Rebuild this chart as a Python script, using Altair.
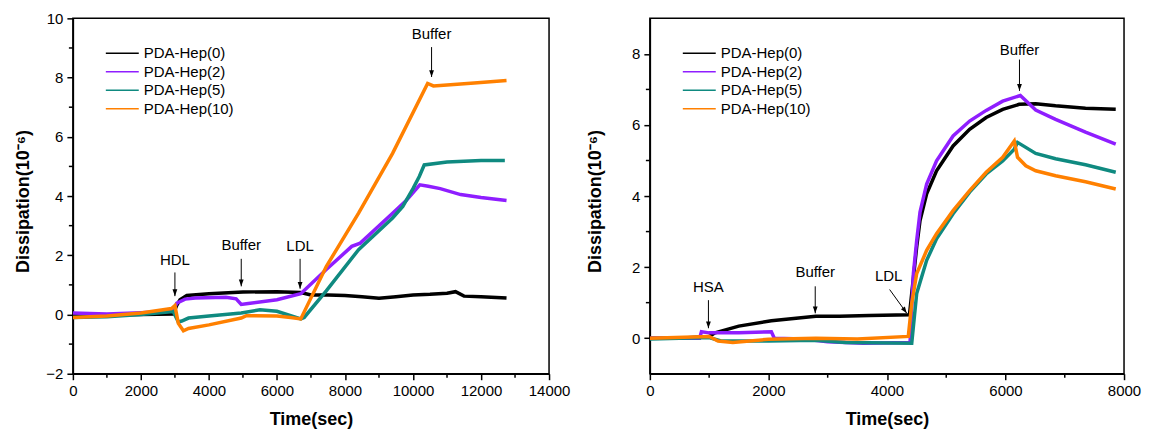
import altair as alt
import pandas as pd

FONT = "Liberation Sans"
SERIES = ["PDA-Hep(0)", "PDA-Hep(2)", "PDA-Hep(5)", "PDA-Hep(10)"]
COLORS = ["#000000", "#8F1EFF", "#0F8A80", "#FF8000"]

# ---------------- Left panel (HDL -> Buffer -> LDL -> Buffer) ----------------
L0_T = [0, 1000, 2000, 2950, 3050, 3150, 3350, 4000, 5000, 6000, 6700, 7000, 7500, 8000,
        8500, 9000, 9500, 10000, 10500, 11000, 11250, 11500, 12000, 12750]
L0_D = [0.0, -0.02, 0.0, 0.02, 0.3, 0.5, 0.64, 0.7, 0.76, 0.77, 0.74, 0.66, 0.66, 0.64,
        0.6, 0.55, 0.6, 0.66, 0.68, 0.72, 0.77, 0.62, 0.6, 0.56]
L2_T = [0, 1000, 2000, 2950, 3050, 3300, 3600, 4500, 4800, 4950, 5100, 6000, 6700, 7450,
        8200, 8450, 9400, 9800, 10200, 10450, 10800, 11400, 12000, 12750]
L2_D = [0.05, 0.02, 0.06, 0.12, 0.38, 0.52, 0.56, 0.58, 0.53, 0.34, 0.36, 0.5, 0.7, 1.52,
        2.3, 2.41, 3.42, 3.85, 4.38, 4.33, 4.25, 4.05, 3.95, 3.85]
L5_T = [0, 1000, 2000, 2950, 3100, 3200, 3400, 4000, 4950, 5500, 6000, 6700, 6800, 7450,
        8400, 9400, 9700, 10000, 10185, 10330, 11000, 12000, 12700]
L5_D = [-0.1, -0.08, 0.0, 0.1, -0.25, -0.22, -0.12, -0.05, 0.05, 0.16, 0.11, -0.15, -0.1, 0.8,
        2.19, 3.26, 3.65, 4.25, 4.66, 5.05, 5.15, 5.2, 5.2]
L10_T = [0, 1000, 2000, 2900, 3000, 3100, 3250, 3400, 4000, 4950, 5100, 6000, 6400, 6700,
         7450, 8400, 9400, 10430, 10600, 11000, 11800, 12750]
L10_D = [-0.1, -0.05, 0.05, 0.2, 0.3, -0.3, -0.55, -0.47, -0.35, -0.12, -0.04, -0.05, -0.1, -0.15,
         1.62, 3.42, 5.44, 7.8, 7.72, 7.75, 7.82, 7.9]

L_ANN_TEXT = ["HDL", "Buffer", "LDL", "Buffer"]
L_ANN_T = [3000, 4950, 6680, 10546]
L_ANN_D = [1.85, 2.33, 2.3, 9.46]
L_ARR_T = [3000, 4950, 6680, 10546]
L_ARR_TOP = [1.42, 1.88, 1.88, 9.03]
L_ARR_TIP = [0.62, 0.95, 0.87, 8.02]

L_XTICKS = [0, 2000, 4000, 6000, 8000, 10000, 12000, 14000]
L_XMINOR = [1000, 3000, 5000, 7000, 9000, 11000, 13000]
L_YTICKS = [-2, 0, 2, 4, 6, 8, 10]
L_YMINOR = [-1, 1, 3, 5, 7, 9]

# ---------------- Right panel (HSA -> Buffer -> LDL -> Buffer) ----------------
R0_T = [0, 500, 1000, 1100, 1500, 2050, 2800, 3200, 3700, 4380, 4418, 4502, 4558, 4670,
        4837, 5116, 5395, 5674, 5953, 6231, 6510, 6845, 7350, 7860]
R0_D = [0.0, 0.0, 0.05, 0.15, 0.34, 0.49, 0.62, 0.62, 0.64, 0.66, 1.26, 2.57, 3.31, 4.06,
        4.71, 5.41, 5.88, 6.21, 6.44, 6.58, 6.6, 6.54, 6.47, 6.44]
R2_T = [0, 840, 870, 1000, 1500, 2050, 2100, 2600, 3000, 3600, 4390, 4446, 4502, 4558,
        4670, 4837, 5116, 5395, 5674, 5953, 6250, 6510, 6845, 7350, 7860]
R2_D = [0.0, 0.0, 0.18, 0.15, 0.15, 0.18, 0.0, -0.02, -0.1, -0.14, -0.12, 1.82, 2.75, 3.55,
        4.34, 4.99, 5.69, 6.11, 6.41, 6.67, 6.83, 6.42, 6.16, 5.8, 5.46]
R5_T = [0, 1000, 1200, 2000, 2800, 3300, 4418, 4502, 4670, 4837, 5116, 5395, 5674, 5953,
        6148, 6203, 6510, 6845, 7350, 7860]
R5_D = [-0.02, 0.02, -0.08, -0.08, -0.06, -0.12, -0.14, 1.26, 2.19, 2.8, 3.5, 4.11, 4.62, 4.99,
        5.32, 5.51, 5.2, 5.05, 4.88, 4.67]
R10_T = [0, 1000, 1150, 1400, 2000, 2800, 3500, 4360, 4418, 4502, 4670, 4837, 5116, 5395,
         5674, 5953, 6148, 6203, 6343, 6510, 6845, 7350, 7860]
R10_D = [0.0, 0.05, -0.08, -0.12, -0.03, 0.0, -0.02, 0.05, 0.98, 1.82, 2.47, 2.94, 3.59, 4.15,
         4.67, 5.09, 5.55, 5.09, 4.85, 4.71, 4.57, 4.4, 4.2]

R_ANN_TEXT = ["HSA", "Buffer", "LDL", "Buffer"]
R_ANN_T = [988, 2790, 4028, 6236]
R_ANN_D = [1.43, 1.87, 1.75, 8.12]
R_ARR_T = [988, 2790, 6236]
R_ARR_TOP = [1.07, 1.46, 7.84]
R_ARR_TIP = [0.28, 0.70, 6.96]
R_DIAG_T = [4045]
R_DIAG_TOP = [1.37]
R_DIAG_T2 = [4335]
R_DIAG_TIP = [0.70]

R_XTICKS = [0, 2000, 4000, 6000, 8000]
R_XMINOR = [1000, 3000, 5000, 7000]
R_YTICKS = [0, 2, 4, 6, 8]
R_YMINOR = [1, 3, 5, 7]

W_L, W_R, H = 477, 475, 356
ARROW_HEAD = "M0,0L-0.6,-1.7L0.6,-1.7Z"


def series_df(ts, ds):
    rows = []
    for name, t, d in zip(SERIES, ts, ds):
        for a, b in zip(t, d):
            rows.append({"series": name, "t": a, "d": b})
    return pd.DataFrame(rows)


def arrows(t1, d1, t2, d2, angle):
    df = pd.DataFrame({"t": t1, "d": d1, "t2": t2, "d2": d2})
    shaft = alt.Chart(df).mark_rule(color="black", strokeWidth=1).encode(
        x="t:Q", y="d:Q", x2="t2:Q", y2="d2:Q")
    head = alt.Chart(df).mark_point(shape=ARROW_HEAD, filled=True, size=64, color="black",
                                    opacity=1, strokeWidth=0, angle=angle).encode(
        x=alt.X("t2:Q"), y=alt.Y("d2:Q"))
    return [shaft, head]


def panel(df, w, xdom, xticks, xminor, ydom, yticks, yminor,
          ann_text, ann_t, ann_d, arrow_layers, title_pad):
    x_enc = alt.X("t:Q", scale=alt.Scale(domain=xdom, nice=False, zero=False),
                  axis=alt.Axis(values=xticks, format="d", title="Time(sec)", tickSize=6,
                                labelPadding=4, titlePadding=12, labelFlush=False,
                                labelOverlap=False))
    y_enc = alt.Y("d:Q", scale=alt.Scale(domain=ydom, nice=False, zero=False),
                  axis=alt.Axis(values=yticks, format="d", title="Dissipation(10\u207b\u2076)",
                                tickSize=6, labelPadding=4, titlePadding=title_pad,
                                titleY=H / 2 + 5,
                                minExtent=27, maxExtent=27, labelFlush=False,
                                labelOverlap=False))
    lines = alt.Chart(df).mark_line(strokeWidth=3.5, clip=True).encode(
        x=x_enc, y=y_enc,
        color=alt.Color("series:N", scale=alt.Scale(domain=SERIES, range=COLORS), legend=None))

    xm = alt.Chart(pd.DataFrame({"t": xminor})).mark_rule(color="black", strokeWidth=1.5).encode(
        x="t:Q", y=alt.value(H), y2=alt.value(H + 4))
    ym = alt.Chart(pd.DataFrame({"d": yminor})).mark_rule(color="black", strokeWidth=1.5).encode(
        y="d:Q", x=alt.value(0), x2=alt.value(-4))

    txt = alt.Chart(pd.DataFrame({"t": ann_t, "d": ann_d, "label": ann_text})).mark_text(
        font=FONT, fontSize=15, color="black", align="center", baseline="middle").encode(
        x="t:Q", y="d:Q", text="label:N")

    leg = []
    for i, (s, c) in enumerate(zip(SERIES, COLORS)):
        yy = 35 + 18.5 * i
        ldf = pd.DataFrame({"label": [s]})
        leg.append(alt.Chart(ldf).mark_rule(color=c, strokeWidth=1.5).encode(
            x=alt.value(33), x2=alt.value(66), y=alt.value(yy)))
        leg.append(alt.Chart(ldf).mark_text(font=FONT, fontSize=15, color="black",
                                            align="left", baseline="middle").encode(
            x=alt.value(71), y=alt.value(yy), text="label:N"))

    return alt.layer(lines, xm, ym, txt, *arrow_layers, *leg).properties(width=w, height=H)


left_df = series_df([L0_T, L2_T, L5_T, L10_T], [L0_D, L2_D, L5_D, L10_D])
right_df = series_df([R0_T, R2_T, R5_T, R10_T], [R0_D, R2_D, R5_D, R10_D])

left = panel(left_df, W_L, [0, 14000], L_XTICKS, L_XMINOR, [-2, 10], L_YTICKS, L_YMINOR,
             L_ANN_TEXT, L_ANN_T, L_ANN_D,
             arrows(L_ARR_T, L_ARR_TOP, L_ARR_T, L_ARR_TIP, 0), 13)
right = panel(right_df, W_R, [0, 8000], R_XTICKS, R_XMINOR, [-1, 9], R_YTICKS, R_YMINOR,
              R_ANN_TEXT, R_ANN_T, R_ANN_D,
              arrows(R_ARR_T, R_ARR_TOP, R_ARR_T, R_ARR_TIP, 0)
              + arrows(R_DIAG_T, R_DIAG_TOP, R_DIAG_T2, R_DIAG_TIP, 325), 18)

chart = alt.hconcat(left, right, spacing=101, bounds="flush").properties(
    padding={"left": 6, "top": 2, "right": 0, "bottom": 0}
).configure_view(stroke="black", strokeWidth=1.5).configure_axis(
    domainColor="black", domainWidth=1.5, tickColor="black", tickWidth=1.5,
    labelFont=FONT, labelFontSize=15, labelColor="black",
    titleFont=FONT, titleFontSize=18, titleFontWeight="bold", titleColor="black",
    grid=False)

chart.save("out.html", embed_options={"renderer": "svg", "actions": False})
